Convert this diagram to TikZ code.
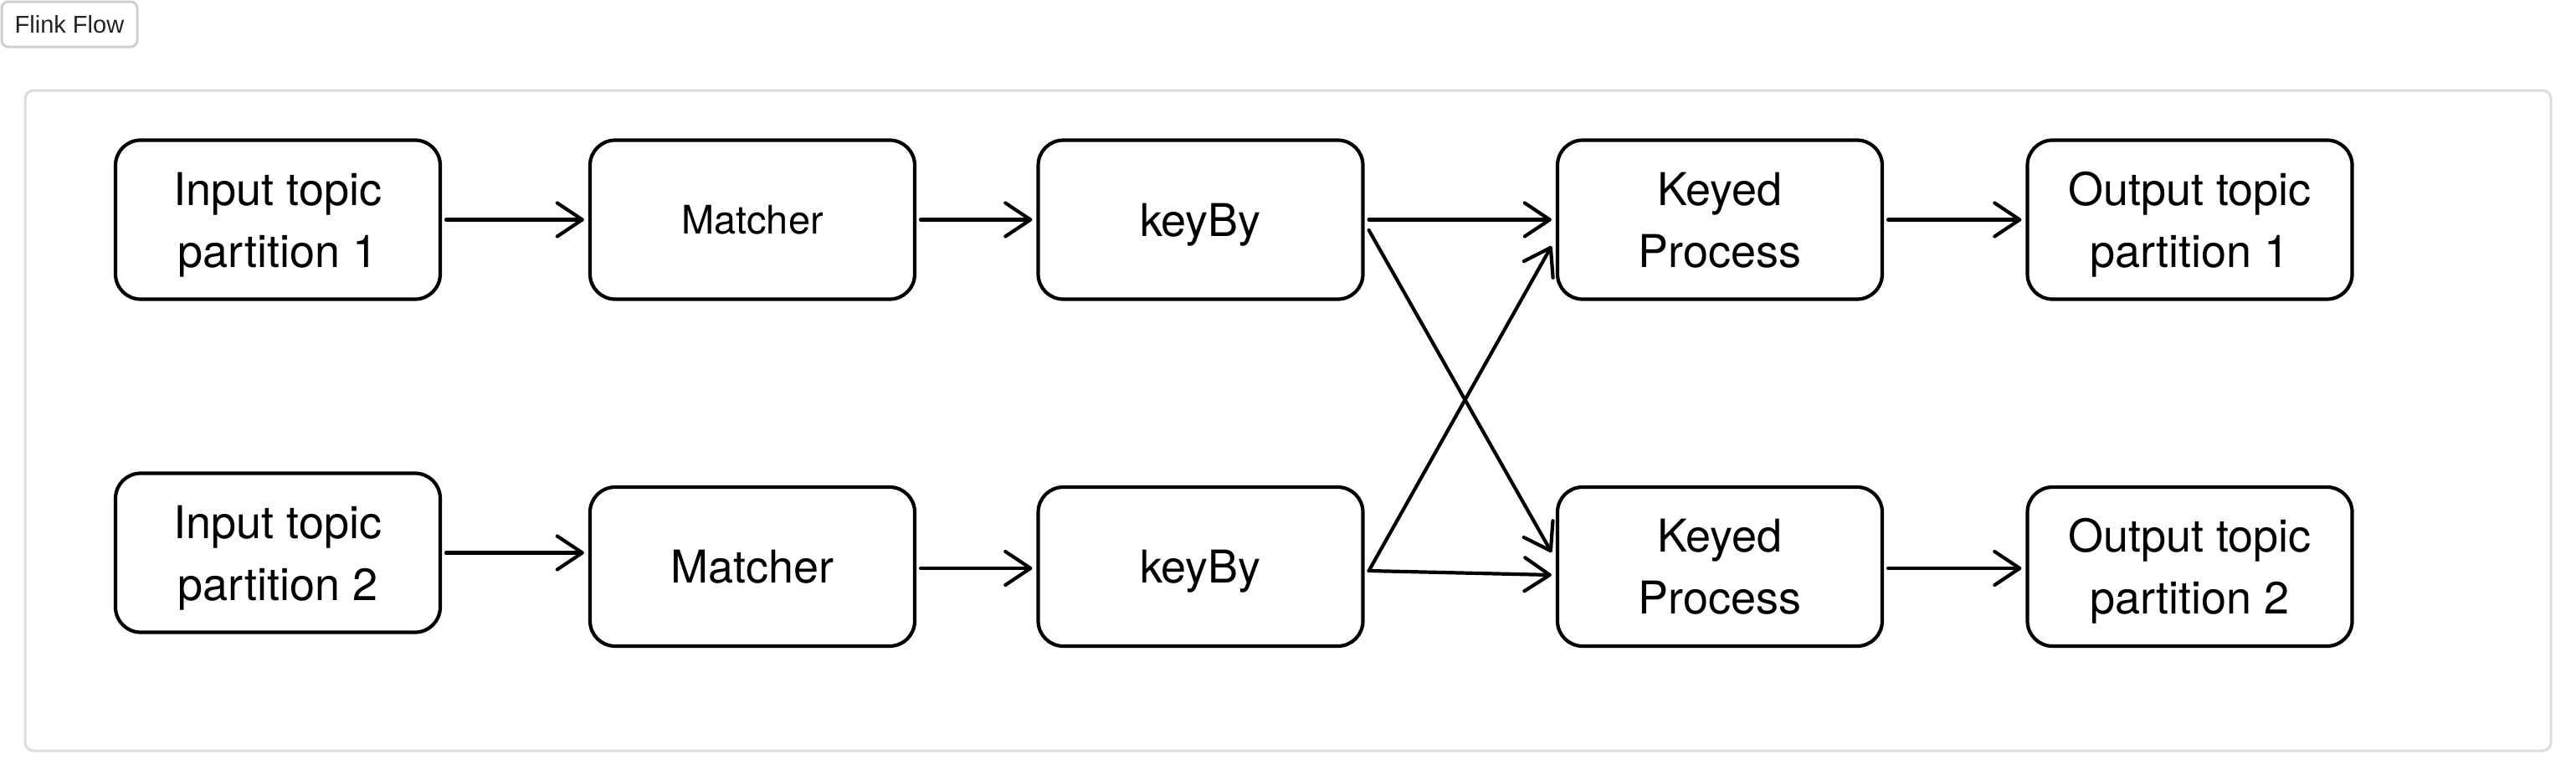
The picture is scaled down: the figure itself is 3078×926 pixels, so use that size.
\documentclass[tikz,border=0pt]{standalone}
\usepackage{fontspec}
\setmainfont{TeX Gyre Heros}
\newfontfamily\uifont{Liberation Sans}
\usetikzlibrary{arrows.meta}
\definecolor{panelgray}{HTML}{DCDCDF}
\definecolor{btngray}{HTML}{CFCFD2}
\definecolor{btntext}{HTML}{222222}
% one-line label: height = cap height, no depth
\newcommand\onel[2][39pt]{\raisebox{0pt}[#1][0pt]{#2}}
% two-line label: from cap top of line 1 to baseline of line 2
\newcommand\twol[1]{\raisebox{0pt}[113pt][0pt]{\begin{tabular}[b]{@{}c@{}}#1\end{tabular}}}
\begin{document}
\begin{tikzpicture}[x=1pt,y=-1pt,
  box/.style={draw=black, line width=4.2pt, rounded corners=30pt,
    minimum width=388pt, minimum height=190pt,
    inner sep=0pt, font=\fontsize{54}{74}\selectfont},
  arr/.style={line width=4.2pt, line cap=round,
    -{Straight Barb[length=30pt,width=40pt,line cap=round,line join=round]}},
]
\useasboundingbox (0,0) rectangle (3078,926);
% header button
\node[draw=btngray, line width=3pt, rounded corners=8pt, minimum width=162pt,
  minimum height=54pt, inner sep=0pt, text=btntext,
  font=\uifont\fontsize{29}{34}\selectfont] (btn) at (83,29) {Flink Flow};
% panel
\node[draw=panelgray, line width=3pt, rounded corners=10pt, minimum width=3018pt,
  minimum height=789pt, inner sep=0pt] (panel) at (1539,502.5) {};
% row 1
\node[box] (in1) at (332,262.5) {\twol{Input topic\\partition 1}};
\node[box, font=\fontsize{47}{60}\selectfont] (ma1) at (899,262.5) {\onel[34pt]{Matcher}};
\node[box] (kb1) at (1434.5,262.5) {\onel{keyBy}};
\node[box] (kp1) at (2055,262.5) {\twol{Keyed\\Process}};
\node[box] (out1) at (2616.5,262.5) {\twol{Output topic\\partition 1}};
% row 2
\node[box] (in2) at (332,660.5) {\twol{Input topic\\partition 2}};
\node[box] (ma2) at (899,677) {\onel{Matcher}};
\node[box] (kb2) at (1434.5,677) {\onel{keyBy}};
\node[box] (kp2) at (2055,677) {\twol{Keyed\\Process}};
\node[box] (out2) at (2616.5,677) {\twol{Output topic\\partition 2}};
% connectors row 1
\draw[arr] ([xshift=5pt]in1.east) -- ([xshift=-5pt]ma1.west);
\draw[arr] ([xshift=5pt]ma1.east) -- ([xshift=-5pt]kb1.west);
\draw[arr] ([xshift=5pt]kb1.east) -- ([xshift=-5pt]kp1.west);
\draw[arr] ([xshift=5pt]kp1.east) -- ([xshift=-5pt]out1.west);
% connectors row 2
\draw[arr] ([xshift=5pt]in2.east) -- ([xshift=-5pt]in2.east -| ma2.west);
\draw[arr] ([xshift=5pt,yshift=-2pt]ma2.east) -- ([xshift=-5pt,yshift=-2pt]kb2.west);
\draw[arr] ([xshift=5pt,yshift=-5pt]kb2.east) -- ([xshift=-5pt,yshift=-10pt]kp2.west);
\draw[arr] ([xshift=5pt,yshift=-2pt]kp2.east) -- ([xshift=-5pt,yshift=-2pt]out2.west);
% crossing connectors
\draw[arr] ([xshift=5pt,yshift=-12.5pt]kb1.east) -- ([xshift=-5pt,yshift=17pt]kp2.west);
\draw[arr] ([xshift=5pt,yshift=-5pt]kb2.east) -- ([xshift=-5pt,yshift=-31.5pt]kp1.west);
\end{tikzpicture}
\end{document}
